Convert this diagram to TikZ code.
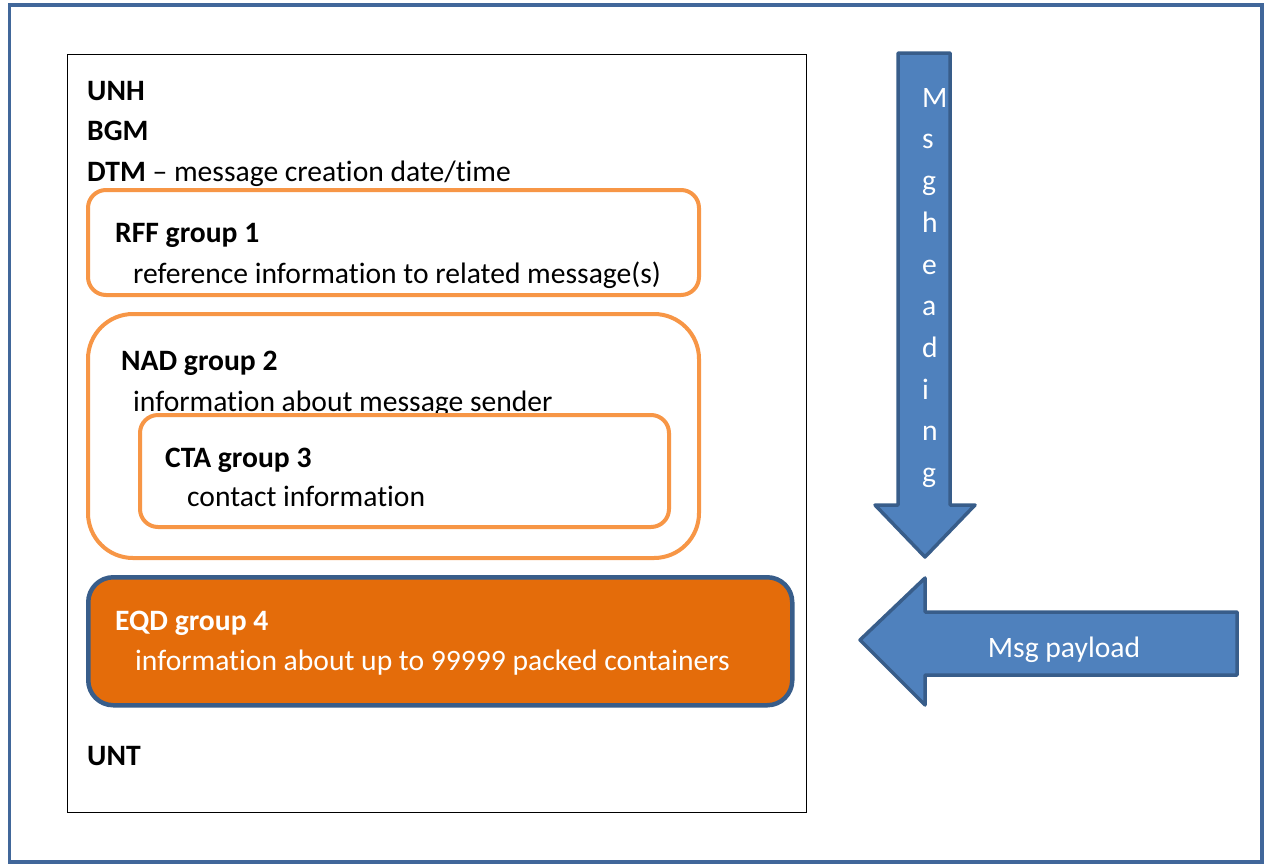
\documentclass[tikz,border=0pt]{standalone}
\usepackage{fontspec}
\setmainfont{Carlito}[Ligatures=NoCommon]
\definecolor{frameblue}{HTML}{41679A}
\definecolor{orangeline}{HTML}{F79646}
\definecolor{eqdfill}{HTML}{E46C0A}
\definecolor{arrowfill}{HTML}{4F81BD}
\definecolor{arrowline}{HTML}{385D8A}
\begin{document}
\begin{tikzpicture}[x=1pt,y=-1pt,
  txt/.style={anchor=base west, inner sep=0pt, font=\fontsize{29.6}{35}\selectfont},
  grp/.style={draw=orangeline, line width=4pt, fill=white, anchor=north west, inner sep=0pt},
  bigarrow/.style={fill=arrowfill, draw=arrowline, line width=3.5pt, line join=round}]
\useasboundingbox (0,0) rectangle (1265,865);
% outer frame
\draw[frameblue, line width=3.5pt] (9.5,5) rectangle (1262,862);
% inner box
\node[draw=black, line width=1pt, anchor=north west, inner sep=0pt, minimum width=739pt, minimum height=758pt] (msg) at (67,54) {};
% header segments
\node[txt] (unh) at (87,100) {\textbf{UNH}};
\node[txt] (bgm) at (87,140) {\textbf{BGM}};
\node[txt] (dtm) at (87,181) {\textbf{DTM} -- message creation date/time};
% RFF group
\node[grp, rounded corners=18pt, minimum width=611pt, minimum height=105pt] (rff) at (86,188) {};
\node[txt] (rfft) at (115,242) {\textbf{RFF group 1}};
\node[txt] (rffd) at (133,283) {reference information to related message(s)};
% NAD group
\node[grp, rounded corners=45pt, minimum width=611pt, minimum height=244pt] (nad) at (86,312) {};
\node[txt] (nadt) at (121,370) {\textbf{NAD group 2}};
\node[txt] (nadd) at (133,411) {information about message sender};
% CTA group
\node[grp, rounded corners=18pt, minimum width=529pt, minimum height=112pt] (cta) at (138,413) {};
\node[txt] (ctat) at (165,467) {\textbf{CTA group 3}};
\node[txt] (ctad) at (187,506) {contact information};
% EQD group
\node[draw=arrowline, line width=4.5pt, fill=eqdfill, rounded corners=25pt, anchor=north west, inner sep=0pt, minimum width=704pt, minimum height=128pt] (eqd) at (86,575) {};
\node[txt, text=white] (eqdt) at (115,630) {\textbf{EQD group 4}};
\node[txt, text=white] (eqdd) at (135,670) {information about up to 99999 packed containers};
% UNT
\node[txt] (unt) at (87,765) {\textbf{UNT}};
% down arrow: Msg heading
\draw[bigarrow] (898,53) -- (950,53) -- (950,505) -- (975,505) -- (925,557) -- (875,505) -- (898,505) -- cycle;
\node[anchor=north west, inner sep=0pt, align=left, text=white, font=\fontsize{29.6}{41.7}\selectfont] (heading) at (922,88)
  {M\\s\\g\\h\\e\\a\\d\\i\\n\\g};
% left arrow: Msg payload
\draw[bigarrow] (860,640) -- (925,578) -- (925,612) -- (1237,612) -- (1237,675) -- (925,675) -- (925,705) -- cycle;
\node[inner sep=0pt, text=white, font=\fontsize{29.6}{35}\selectfont] (payload) at (1064,650) {Msg payload};
\end{tikzpicture}
\end{document}
